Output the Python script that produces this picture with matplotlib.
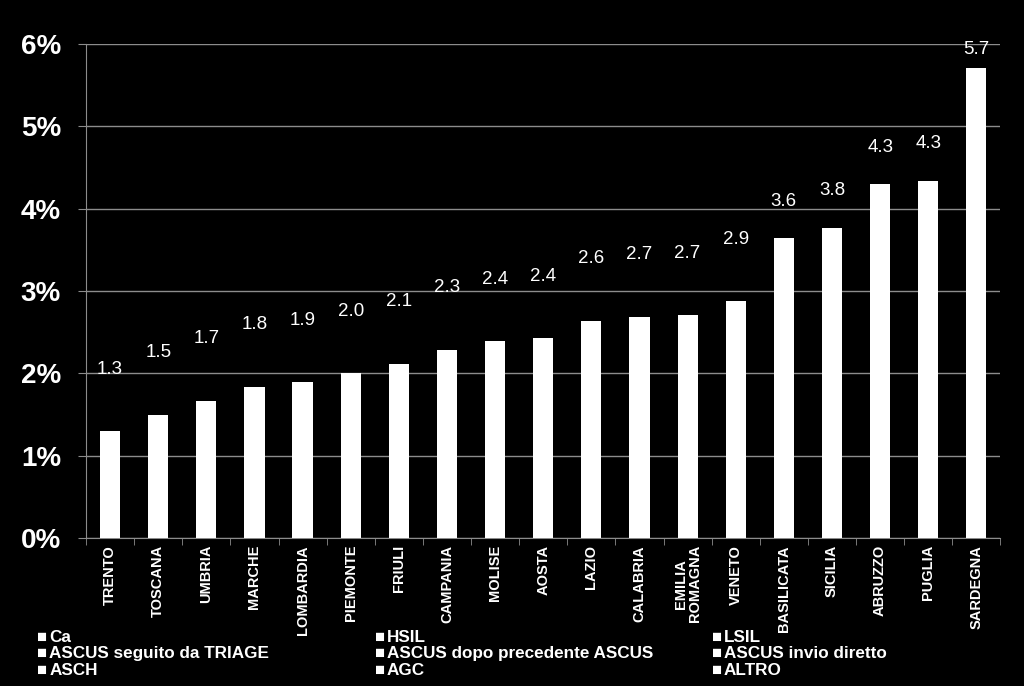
import matplotlib
matplotlib.use("Agg")
import matplotlib.pyplot as plt
import numpy as np
from matplotlib.ticker import FuncFormatter

REGIONS = ["TRENTO", "TOSCANA", "UMBRIA", "MARCHE", "LOMBARDIA", "PIEMONTE",
           "FRIULI", "CAMPANIA", "MOLISE", "AOSTA", "LAZIO", "CALABRIA",
           "EMILIA\nROMAGNA", "VENETO", "BASILICATA", "SICILIA", "ABRUZZO",
           "PUGLIA", "SARDEGNA"]
RATES = [0.0130, 0.0150, 0.0167, 0.0184, 0.0189, 0.0200, 0.0212, 0.0229,
         0.0239, 0.0243, 0.0264, 0.0269, 0.0271, 0.0288, 0.0364, 0.0377,
         0.0430, 0.0434, 0.0571]
LEGEND_ROWS = [["Ca", "HSIL", "LSIL"],
               ["ASCUS seguito da TRIAGE", "ASCUS dopo precedente ASCUS", "ASCUS invio diretto"],
               ["ASCH", "AGC", "ALTRO"]]

BOLD = ["Liberation Sans", "DejaVu Sans"]
GRID = "#8c8c8c"

fig = plt.figure(figsize=(10.24, 6.86), dpi=100, facecolor="black")
ax = fig.add_axes([0.084, 0.2157, 0.893, 0.72], facecolor="black")

x = np.arange(len(RATES))
ax.bar(x, RATES, width=0.42, color="white", zorder=3)

for xi, v in zip(x, RATES):
    y = v + (0.0075 if v < 0.03 else 0.0045)
    y = min(y, 0.0593)
    ax.text(xi, y, f"{v * 100:.1f}", ha="center", va="center", color="white",
            fontsize=13.5, family=BOLD, zorder=4)

ax.set_xlim(-0.5, len(RATES) - 0.5)
ax.set_ylim(0, 0.06)
ax.set_yticks(np.arange(0, 0.061, 0.01))
ax.yaxis.set_major_formatter(FuncFormatter(lambda v, _: f"{v * 100:.0f}%"))
ax.grid(axis="y", color=GRID, linewidth=1, zorder=0)

ax.set_xticks(x)
ax.set_xticklabels(REGIONS, rotation=90, fontsize=10.5, fontweight="bold",
                   family=BOLD, color="white", linespacing=1.0)
ax.set_xticks(np.arange(-0.5, len(RATES)), minor=True)
ax.tick_params(axis="x", which="major", length=0, pad=5)
ax.tick_params(axis="x", which="minor", length=5, color=GRID, direction="out")
ax.tick_params(axis="y", length=6, color=GRID, pad=12, labelcolor="white",
               labelsize=20)
for lab in ax.get_yticklabels():
    lab.set_fontweight("bold")
    lab.set_family(BOLD)

for side in ("top", "right"):
    ax.spines[side].set_visible(False)
for side in ("left", "bottom"):
    ax.spines[side].set_color(GRID)

col_x = [0.036, 0.366, 0.695]
row_y = [0.071, 0.047, 0.023]
for ry, row in zip(row_y, LEGEND_ROWS):
    for cx, name in zip(col_x, row):
        fig.text(cx, ry, "\u25a0", color="white", fontsize=12,
                 family=BOLD, va="center", ha="left")
        fig.text(cx + 0.012, ry, name, color="white", fontsize=12.3,
                 fontweight="bold", family=BOLD, va="center", ha="left")

fig.savefig("out.png", dpi=100, facecolor="black")
